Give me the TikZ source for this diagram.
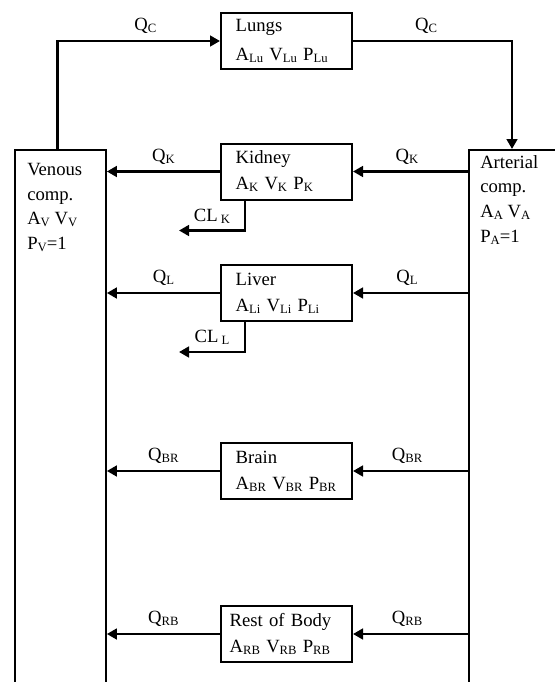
\documentclass[tikz,border=0pt]{standalone}
\usepackage{fontspec}
\setmainfont{Liberation Serif}
\usetikzlibrary{arrows.meta}

\newcommand{\sbs}[1]{\raisebox{-1.5pt}{\fontsize{9.5}{10}\selectfont #1}}

\tikzset{%
  every organ/.style={
    draw,
    line width=1.5pt,
    minimum width=98.25pt,
    minimum height=42pt,
    inner xsep=11pt,
    inner ysep=0pt,
    text width=76.25pt,
    align=left,
    font=\fontsize{14}{19.5}\selectfont
  },
  comp box/.style={
    draw,
    line width=1.4pt,
    anchor=north west,
    minimum height=420pt
  },
  comp text/.style={
    anchor=north west,
    inner sep=0pt,
    align=left,
    font=\fontsize{14}{18.5}\selectfont
  },
  flow/.style={
    line width=2.2pt,
    -{Triangle[length=7.5pt,width=8pt]}
  },
  flow label/.style={
    above=2.5pt,
    inner sep=2pt,
    font=\fontsize{14}{16}\selectfont
  },
}

\begin{document}
\begin{tikzpicture}[x=0.75pt,y=-0.75pt]
\useasboundingbox (0,0) rectangle (554,682);

% compartments
\node [comp box, minimum width=68.25pt] (venous) at (14,149) {};
\node [comp box, minimum width=114pt] (arterial) at (468,149) {};
\node [comp text] (venous-text) at (27,163)
  {Venous\\comp.\\A\sbs{V} V\sbs{V}\\P\sbs{V}=1};
\node [comp text] (arterial-text) at (480,155)
  {Arterial\\comp.\\A\sbs{A} V\sbs{A}\\P\sbs{A}=1};

% organs
\node [every organ, font=\fontsize{14}{22}\selectfont] (lungs) at (286.5,41)
  {Lungs\\A\sbs{Lu} V\sbs{Lu} P\sbs{Lu}};
\node [every organ] (kidney) at (286.5,171.5)
  {Kidney\\A\sbs{K} V\sbs{K} P\sbs{K}};
\node [every organ] (liver) at (286.5,293)
  {Liver\\A\sbs{Li} V\sbs{Li} P\sbs{Li}};
\node [every organ] (brain) at (286.5,471)
  {Brain\\A\sbs{BR} V\sbs{BR} P\sbs{BR}};
\node [every organ, inner xsep=6.5pt, text width=85.25pt] (rest) at (286.5,634)
  {Rest of Body\\A\sbs{RB} V\sbs{RB} P\sbs{RB}};

% cardiac output
\draw [flow] ([xshift=-2pt]venous.north) |- (lungs.west)
  node [flow label, pos=0.77] {Q\sbs{C}};
\draw [flow] (lungs.east) -| ([xshift=33pt]arterial.north west)
  node [flow label, pos=0.23] {Q\sbs{C}};

% organ flows
\foreach \organ/\idx in {kidney/K, liver/L, brain/BR, rest/RB} {
  \draw [flow] (\organ.east -| arterial.west) -- (\organ.east)
    node [flow label, pos=0.53] {Q\sbs{\idx}};
  \draw [flow] (\organ.west) -- (\organ.west -| venous.east)
    node [flow label, midway] {Q\sbs{\idx}};
}

% clearance
\foreach \organ/\idx in {kidney/K, liver/L}
  \draw [flow] ([xshift=18.75pt]\organ.south west) |- ++(-66,30)
    node [flow label, pos=0.75, above=0pt] {CL\,\sbs{\idx}};

\end{tikzpicture}
\end{document}
